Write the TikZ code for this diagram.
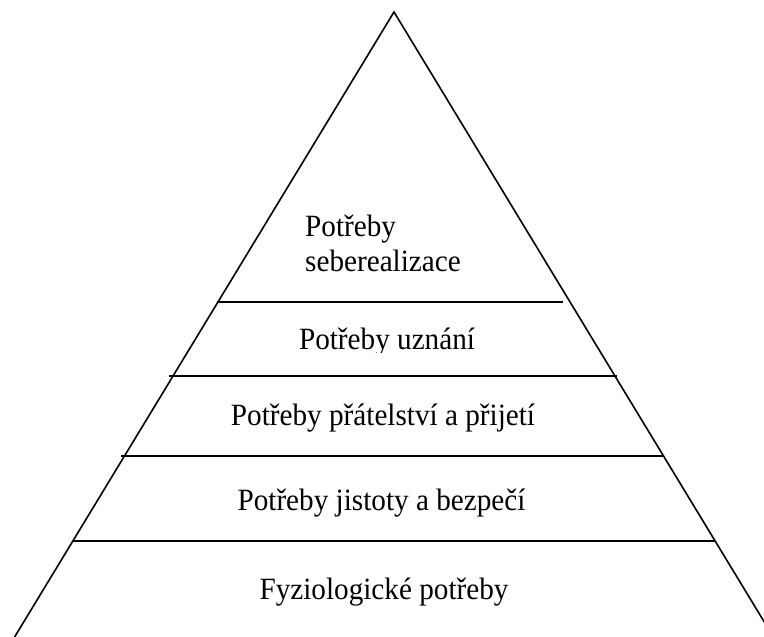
\documentclass[tikz,border=0pt]{standalone}
\usepackage{fontspec}
\setmainfont{Liberation Serif}
\usepackage{xcolor}
\usepackage{tikz}
\definecolor{bg}{HTML}{FFFFFF}
\definecolor{ink}{HTML}{000000}
\tikzset{
  side/.style={draw=ink, line width=1.6pt, line cap=round, line join=miter},
  tier/.style={draw=ink, line width=1.6pt},
  lab/.style={text=ink, font=\fontsize{29.2}{32.4}\selectfont, inner sep=0pt, anchor=base, yscale=1.06},
}
\begin{document}
\begin{tikzpicture}[x=1pt,y=-1pt]
  \fill[bg] (0,0) rectangle (764,637);
  \useasboundingbox (0,0) rectangle (764,637);
  \clip (0,0) rectangle (764,637);

  % apex and feet (feet run past the page edge)
  \coordinate (apex) at (394,12);
  \coordinate (footL) at (6.7,650);
  \coordinate (footR) at (781.3,650);
  \draw[side] (footL) -- (apex) -- (footR);

  % tier lines
  \draw[tier] (217,302) -- (563,302);
  \draw[tier] (169,376) -- (617,376);
  \draw[tier] (121,456) -- (664,456);
  \draw[tier] (73,541) -- (715,541);

  % labels (base of a two-line node is its last line)
  \node[lab, anchor=base west, align=left] (self) at (305,271) {Potřeby\\seberealizace};
  \begin{scope}
    \clip (150,300) rectangle (620,352);
    \node[lab] (esteem) at (387,349) {Potřeby uznání};
  \end{scope}
  \node[lab] (love) at (383,425) {Potřeby přátelství a přijetí};
  \node[lab] (safety) at (381.5,510) {Potřeby jistoty a bezpečí};
  \node[lab] (physio) at (384,599) {Fyziologické potřeby};
\end{tikzpicture}
\end{document}
